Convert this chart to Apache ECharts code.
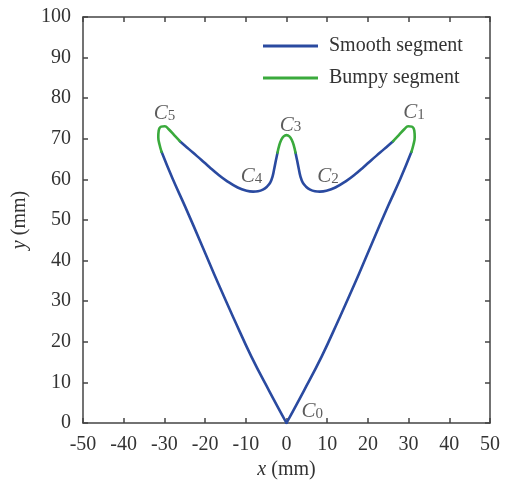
<!DOCTYPE html>
<html><head><meta charset="utf-8">
<script src="https://cdn.jsdelivr.net/npm/echarts@6/dist/echarts.min.js"></script>
<style>html,body{margin:0;padding:0;background:#fff}#c{width:508px;height:486px}</style>
</head><body><div id="c"></div>
<script>
// x ticks / y ticks
const xMin = -50, xMax = 50, xStep = 10;
const yMin = 0, yMax = 100, yStep = 10;

// Curve segments, [x, y] in mm, traversed C0 -> C1 -> C2 -> C3 -> C4 -> C5 -> C0
const smoothRightLine = [[0,0],[4.3,8.0],[8.6,16.3],[12.7,25.2],[16.8,34.4],[20.8,43.8],[24.9,53.3],[28.0,60.2],[30.7,66.8]];
const bumpyC1 = [[30.7,66.8],[31.2,68.6],[31.5,70.4],[31.4,72.0],[30.8,73.0],[29.9,73.1],[29.0,72.4],[27.6,70.9],[26.2,69.4]];
const smoothC1C3 = [[26.2,69.4],[24.6,68.0],[23.0,66.6],[20.9,64.8],[18.9,63.0],[16.8,61.2],[14.8,59.7],[12.0,58.0],[9.8,57.2],[8.2,57.0],[7.0,57.1],[5.8,57.5],[4.8,58.2],[4.0,59.2],[3.4,60.8],[3.0,62.7],[2.6,64.7],[2.2,66.6]];
const bumpyC3 = [[2.2,66.6],[1.8,68.3],[1.3,69.7],[0.7,70.6],[0,70.9],[-0.7,70.6],[-1.3,69.7],[-1.8,68.3],[-2.2,66.6]];
const smoothC3C5 = [[-2.2,66.6],[-2.6,64.7],[-3.0,62.7],[-3.4,60.8],[-4.0,59.2],[-4.8,58.2],[-5.8,57.5],[-7.0,57.1],[-8.2,57.0],[-9.8,57.2],[-12.0,58.0],[-14.8,59.7],[-16.8,61.2],[-18.9,63.0],[-20.9,64.8],[-23.0,66.6],[-24.6,68.0],[-26.2,69.4]];
const bumpyC5 = [[-26.2,69.4],[-27.6,70.9],[-29.0,72.4],[-29.9,73.1],[-30.8,73.0],[-31.4,72.0],[-31.5,70.4],[-31.2,68.6],[-30.7,66.8]];
const smoothLeftLine = [[-30.7,66.8],[-28.0,60.2],[-24.9,53.3],[-20.8,43.8],[-16.8,34.4],[-12.7,25.2],[-8.6,16.3],[-4.3,8.0],[0,0]];

// Point labels C0..C5 (label anchor positions in mm)
const labelIdx = ['0','1','2','3','4','5'];
const labelX = [6.3, 31.3, 10.2, 1.0, -8.6, -30.0];
const labelY = [2.8, 76.4, 60.7, 73.4, 60.7, 76.3];

const seriesNames = ['Smooth segment', 'Bumpy segment'];
const blue = '#2a4aa0', green = '#3aaa3c';
const FONT = 'Liberation Serif';
const TXT = '#333';

const chart = echarts.init(document.getElementById('c'));
function seg(name, data, color) {
  return { name, type: 'line', data, smooth: 0.45, symbol: 'none', showSymbol: false,
    lineStyle: { color, width: 2.6, cap: 'round', join: 'round' }, itemStyle: { color },
    z: color === green ? 3 : 2, animation: false };
}
const axisLine = { show: true, onZero: false, lineStyle: { color: '#444', width: 1.5 } };
const tick = () => ({ show: true, inside: true, length: 5, lineStyle: { color: '#444', width: 1.5 } });
chart.setOption({
  animation: false,
  grid: { left: 83, right: 18, top: 17, bottom: 63, containLabel: false },
  legend: {
    orient: 'vertical', left: 263, top: 36, padding: 0, itemWidth: 55, itemHeight: 3, itemGap: 12,
    data: seriesNames.map(n => ({ name: n, icon: 'rect' })),
    textStyle: { fontFamily: FONT, fontSize: 20, color: TXT, padding: [0,0,0,6] }
  },
  xAxis: [
    { type: 'value', min: xMin, max: xMax, interval: xStep, position: 'bottom',
      axisLine, axisTick: tick(), splitLine: { show: false },
      axisLabel: { fontFamily: FONT, fontSize: 20, color: TXT, margin: 12 },
      name: '{i|x} (mm)', nameLocation: 'middle', nameGap: 35,
      nameTextStyle: { fontFamily: FONT, fontSize: 20, color: TXT, rich: { i: { fontFamily: FONT, fontSize: 20, fontStyle: 'italic', color: TXT } } } },
    { type: 'value', min: xMin, max: xMax, interval: xStep, position: 'top',
      axisLine, axisTick: tick(), axisLabel: { show: false }, splitLine: { show: false } }
  ],
  yAxis: [
    { type: 'value', min: yMin, max: yMax, interval: yStep, position: 'left',
      axisLine, axisTick: tick(), splitLine: { show: false },
      axisLabel: { fontFamily: FONT, fontSize: 20, color: TXT, margin: 12 },
      name: '{i|y} (mm)', nameLocation: 'middle', nameGap: 40,
      nameTextStyle: { fontFamily: FONT, fontSize: 20, color: TXT, rich: { i: { fontFamily: FONT, fontSize: 20, fontStyle: 'italic', color: TXT } } } },
    { type: 'value', min: yMin, max: yMax, interval: yStep, position: 'right',
      axisLine, axisTick: tick(), axisLabel: { show: false }, splitLine: { show: false } }
  ],
  series: [
    seg(seriesNames[0], smoothRightLine, blue),
    seg(seriesNames[0], smoothC1C3, blue),
    seg(seriesNames[0], smoothC3C5, blue),
    seg(seriesNames[0], smoothLeftLine, blue),
    seg(seriesNames[1], bumpyC1, green),
    seg(seriesNames[1], bumpyC3, green),
    seg(seriesNames[1], bumpyC5, green),
    { type: 'scatter', symbolSize: 0, silent: true, z: 5,
      data: labelIdx.map((k, i) => ({ value: [labelX[i], labelY[i]], name: k })),
      label: { show: true, position: 'inside',
        formatter: p => '{c|C}{s|' + p.name + '}',
        rich: { c: { fontFamily: FONT, fontStyle: 'italic', fontSize: 21, color: TXT },
                s: { fontFamily: FONT, fontSize: 15, color: TXT, padding: [5,0,0,0] } } } }
  ]
});
</script></body></html>
